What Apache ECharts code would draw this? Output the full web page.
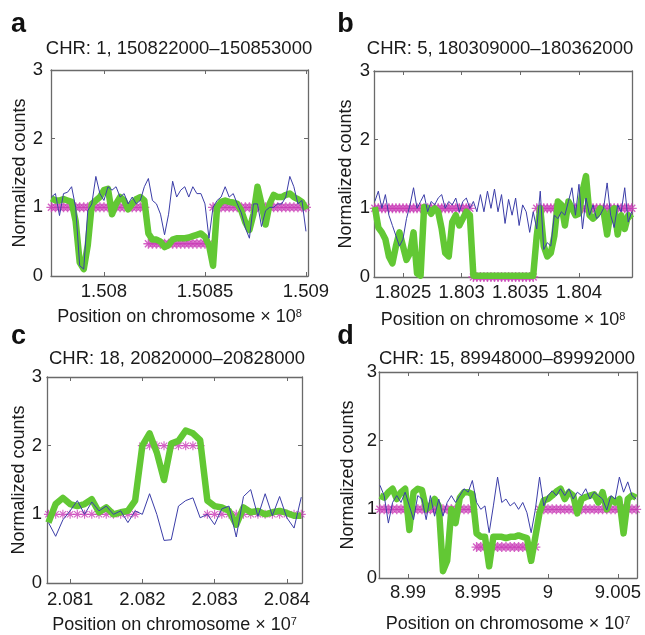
<!DOCTYPE html>
<html><head><meta charset="utf-8">
<script src="https://cdn.jsdelivr.net/npm/echarts@6/dist/echarts.min.js"></script>
<style>html,body{margin:0;padding:0;background:#fff}#chart{width:645px;height:635px}</style>
</head><body><div id="chart"></div>
<script>
// ---------- DATA ----------
const panelLetters = ['a', 'b', 'c', 'd'];
const panelTitles = ['CHR: 1, 150822000–150853000', 'CHR: 5, 180309000–180362000',
                     'CHR: 18, 20820000–20828000', 'CHR: 15, 89948000–89992000'];
const xAxisNames = ['Position on chromosome × 10{s|8}', 'Position on chromosome × 10{s|8}',
                    'Position on chromosome × 10{s|7}', 'Position on chromosome × 10{s|7}'];
const yAxisName = 'Normalized counts';
const yTickValues = [0, 1, 2, 3];

// panel a (positions in kb)
const aRange = [150773.8, 150901];
const aTickValues = [150800, 150850, 150900];
const aTickLabels = ['1.508', '1.5085', '1.509'];
const aPos = [150774,150776,150778,150780,150782,150784,150786,150788,150790,150792,150794,150796,150798,150800,150802,150804,150806,150808,150810,150812,150814,150816,150818,150820,150822,150824,150826,150828,150830,150832,150834,150836,150838,150840,150842,150844,150846,150848,150850,150852,150854,150856,150858,150860,150862,150864,150866,150868,150870,150872,150874,150876,150878,150880,150882,150884,150886,150888,150890,150892,150894,150896,150898,150900];
const aRaw = [1.15,1.2,0.88,1.2,1.22,1.3,1.0,0.15,0.1,0.95,1.05,1.45,1.2,1.1,1.3,1.25,1.3,1.15,1.2,1.05,1.15,1.05,1.1,1.3,1.42,1.1,1.05,0.9,0.6,0.9,1.38,1.15,1.25,1.3,1.15,1.3,1.2,1.2,1.05,0.55,1.0,1.1,1.15,1.3,1.15,1.2,1.05,0.92,0.7,0.55,1.05,1.05,0.72,0.95,1.0,1.0,1.05,1.05,1.15,1.45,1.3,1.05,1.1,0.65];
const aFit = [1.13,1.1,1.1,1.12,1.1,1.08,0.8,0.2,0.1,0.45,1.05,1.1,1.15,1.25,1.27,0.9,1.05,1.15,1.1,0.97,1.05,1.12,1.15,1.1,0.62,0.53,0.53,0.5,0.42,0.45,0.53,0.55,0.55,0.55,0.56,0.58,0.6,0.62,0.57,0.45,0.15,1.0,1.08,1.1,1.08,1.07,1.05,0.95,0.78,0.67,0.9,1.3,1.05,0.75,1.05,1.18,1.15,1.15,1.18,1.2,1.15,1.12,1.08,0.97];
const aSeg = [1,1,1,1,1,1,1,1,1,1,1,1,1,1,1,1,1,1,1,1,1,1,1,1,0.47,0.47,0.47,0.47,0.47,0.47,0.47,0.47,0.47,0.47,0.47,0.47,0.47,0.47,0.47,0.47,1,1,1,1,1,1,1,1,1,1,1,1,1,1,1,1,1,1,1,1,1,1,1,1];

// panel b
const bRange = [180225.3, 180445.2];
const bTickValues = [180250, 180300, 180350, 180400];
const bTickLabels = ['1.8025', '1.803', '1.8035', '1.804'];
const bPos = [180226,180229,180232,180235,180238,180241,180244,180247,180250,180253,180256,180259,180262,180265,180268,180271,180274,180277,180280,180283,180286,180289,180292,180295,180298,180301,180304,180307,180310,180313,180316,180319,180322,180325,180328,180331,180334,180337,180340,180343,180346,180349,180352,180355,180358,180361,180364,180367,180370,180373,180376,180379,180382,180385,180388,180391,180394,180397,180400,180403,180406,180409,180412,180415,180418,180421,180424,180427,180430,180433,180436,180439,180442,180445];
const bRaw = [1.1,1.25,1.0,1.2,0.9,0.75,0.6,0.45,0.55,0.85,1.05,1.3,1.0,1.1,1.2,0.95,1.1,1.05,1.15,1.2,1.0,1.1,1.05,1.15,0.95,1.1,1.15,1.0,1.1,0.95,1.2,0.95,1.25,1.0,1.28,0.95,1.2,0.78,1.13,0.9,1.15,0.75,1.05,0.95,0.65,0.95,0.7,1.25,0.4,0.5,0.45,0.9,0.85,0.95,0.9,1.1,1.3,0.9,1.35,0.7,1.15,0.9,1.05,0.85,0.9,1.0,1.37,0.9,0.72,1.05,0.95,1.3,0.8,0.95];
const bFit = [1.02,0.72,0.65,0.55,0.3,0.2,0.45,0.65,0.45,0.25,0.35,0.65,0.05,0.02,1.02,1.0,0.92,1.0,0.95,0.7,0.35,0.3,0.8,0.9,0.75,0.85,0.95,0.9,0.02,0.02,0.02,0.02,0.02,0.02,0.02,0.02,0.02,0.02,0.02,0.02,0.02,0.02,0.02,0.02,0.02,0.02,0.6,1.0,0.45,0.3,0.35,0.6,1.1,1.05,0.75,1.1,1.0,0.9,0.92,1.25,1.47,0.9,0.85,0.9,1.0,0.95,0.62,0.95,1.0,0.62,0.9,0.7,0.9,0.85];
const bSeg = [1,1,1,1,1,1,1,1,1,1,1,1,1,1,1,1,1,1,1,1,1,1,1,1,1,1,1,1,0,0,0,0,0,0,0,0,0,0,0,0,0,0,0,0,0,0,1,1,1,1,1,1,1,1,1,1,1,1,1,1,1,1,1,1,1,1,1,1,1,1,1,1,1,1];

// panel c
const cRange = [20806.8, 20842.1];
const cTickValues = [20810, 20820, 20830, 20840];
const cTickLabels = ['2.081', '2.082', '2.083', '2.084'];
const cPos = [20807,20808,20809,20810,20811,20812,20813,20814,20815,20816,20817,20818,20819,20820,20821,20822,20823,20824,20825,20826,20827,20828,20829,20830,20831,20832,20833,20834,20835,20836,20837,20838,20839,20840,20841,20842];
const cRaw = [0.88,0.68,0.92,1.05,1.2,1.0,1.18,1.05,1.12,1.0,1.05,0.88,1.05,1.0,1.3,1.0,0.62,0.63,1.12,1.2,1.24,0.95,1.0,0.85,1.08,1.12,0.67,1.26,1.36,0.97,1.3,0.98,1.26,0.95,0.8,1.25];
const cFit = [0.88,1.15,1.24,1.15,1.12,1.15,1.22,1.03,1.1,1.0,1.03,1.05,1.2,2.0,2.18,1.9,1.5,2.03,2.07,2.22,2.18,2.08,1.2,1.12,1.1,1.05,0.85,1.1,1.03,1.05,1.0,1.03,1.05,1.02,0.98,0.98];
const cSeg = [1,1,1,1,1,1,1,1,1,1,1,1,1,2,2,2,2,2,2,2,2,2,1,1,1,1,1,1,1,1,1,1,1,1,1,1];

// panel d
const dRange = [89879.3, 90063.6];
const dTickValues = [89900, 89950, 90000, 90050];
const dTickLabels = ['8.99', '8.995', '9', '9.005'];
const dPos = [89880,89883,89886,89889,89892,89895,89898,89901,89904,89907,89910,89913,89916,89919,89922,89925,89928,89931,89934,89937,89940,89943,89946,89949,89952,89955,89958,89961,89964,89967,89970,89973,89976,89979,89982,89985,89988,89991,89994,89997,90000,90003,90006,90009,90012,90015,90018,90021,90024,90027,90030,90033,90036,90039,90042,90045,90048,90051,90054,90057,90060,90063];
const dRaw = [1.35,1.2,0.8,1.1,1.2,1.1,1.25,1.05,0.85,1.2,1.15,0.85,1.2,0.9,1.15,0.9,1.1,1.2,1.1,1.2,1.3,1.25,1.42,1.1,1.0,1.05,0.66,1.05,1.47,1.1,1.15,1.05,1.1,1.0,1.1,0.95,0.66,1.0,1.47,1.05,1.2,1.27,1.2,1.3,1.2,1.3,1.15,1.25,1.2,1.3,1.15,1.25,1.2,1.15,0.99,1.2,1.15,1.47,1.25,1.4,1.2,1.15];
const dFit = [1.2,1.17,1.25,1.3,1.15,1.25,1.3,0.7,1.25,1.3,1.28,1.0,1.05,1.15,1.05,0.1,0.25,1.0,0.8,1.17,1.25,1.25,1.22,0.65,0.6,0.6,0.17,0.6,0.6,0.6,0.58,0.6,0.6,0.62,0.6,0.58,0.25,0.6,0.95,1.13,1.15,1.2,1.26,1.3,1.15,1.25,1.2,0.94,1.15,1.18,1.2,1.22,1.1,1.25,1.0,1.15,1.1,1.15,0.65,1.15,1.2,1.17];
const dSeg = [1,1,1,1,1,1,1,1,1,1,1,1,1,1,1,1,1,1,1,1,1,1,1,0.45,0.45,0.45,0.45,0.45,0.45,0.45,0.45,0.45,0.45,0.45,0.45,0.45,0.45,0.45,1,1,1,1,1,1,1,1,1,1,1,1,1,1,1,1,1,1,1,1,1,1,1,1];

// ---------- STYLE / LAYOUT ----------
const FONT = "'Liberation Sans', Arial, Helvetica, sans-serif";
const BLUE = '#3b3da8', GREEN = '#62c834', MAGENTA = '#c93cb6', FRAME = '#6a6a6a', TEXT = '#1a1a1a';
const STAR = 'path://M5 0V10M0 5H10M1.5 1.5L8.5 8.5M1.5 8.5L8.5 1.5';

const panels = [
  {pos: aPos, raw: aRaw, fit: aFit, seg: aSeg, range: aRange, ticks: aTickValues, labels: aTickLabels},
  {pos: bPos, raw: bRaw, fit: bFit, seg: bSeg, range: bRange, ticks: bTickValues, labels: bTickLabels},
  {pos: cPos, raw: cRaw, fit: cFit, seg: cSeg, range: cRange, ticks: cTickValues, labels: cTickLabels},
  {pos: dPos, raw: dRaw, fit: dFit, seg: dSeg, range: dRange, ticks: dTickValues, labels: dTickLabels}
];
const geo = [
  {left: 51, top: 70, width: 257, height: 206, xm: 6, ym: 8, xg: 32, yg: 22, title: [179, 49], letter: [18.5, 25], star: 10, sw: 1.4},
  {left: 374, top: 71, width: 258, height: 206, xm: 6, ym: 4, xg: 34, yg: 19, title: [500, 49], letter: [345.5, 25], star: 10, sw: 1.4},
  {left: 47, top: 377, width: 255, height: 206, xm: 7, ym: 5, xg: 33, yg: 15, title: [177, 359], letter: [18.5, 337], star: 9, sw: 1.1},
  {left: 379, top: 372, width: 258, height: 206, xm: 5, ym: 2, xg: 37, yg: 22, title: [507, 359], letter: [345.5, 337], star: 10, sw: 1.4}
];

const grid = [], xAxis = [], yAxis = [], series = [], graphic = [];
panels.forEach((p, i) => {
  const g = geo[i];
  grid.push({left: g.left, top: g.top, width: g.width, height: g.height, containLabel: false});
  const tickStyle = {show: true, inside: true, length: 4, lineStyle: {color: FRAME, width: 1}};
  const lineStyle = {show: true, onZero: false, lineStyle: {color: FRAME, width: 1.3}};
  xAxis.push({
    gridIndex: i, type: 'value', min: p.range[0], max: p.range[1], position: 'bottom',
    axisLine: lineStyle,
    axisTick: Object.assign({customValues: p.ticks}, tickStyle),
    axisLabel: {customValues: p.ticks, fontSize: 18.5, fontFamily: FONT, color: TEXT, margin: g.xm,
      formatter: v => { let k = 0, best = Infinity; p.ticks.forEach((t, j) => { if (Math.abs(t - v) < best) { best = Math.abs(t - v); k = j; } }); return p.labels[k]; }},
    splitLine: {show: false},
    name: xAxisNames[i], nameLocation: 'middle', nameGap: g.xg,
    nameTextStyle: {fontSize: 18, fontFamily: FONT, color: TEXT,
      rich: {s: {fontSize: 11, fontFamily: FONT, color: TEXT, verticalAlign: 'top'}}}
  });
  xAxis.push({
    gridIndex: i, type: 'value', min: p.range[0], max: p.range[1], position: 'top',
    axisLine: lineStyle,
    axisTick: Object.assign({customValues: p.ticks}, tickStyle),
    axisLabel: {show: false}, splitLine: {show: false}
  });
  yAxis.push({
    gridIndex: i, type: 'value', min: 0, max: 3, interval: 1, position: 'left',
    axisLine: lineStyle, axisTick: tickStyle,
    axisLabel: {fontSize: 18.5, fontFamily: FONT, color: TEXT, margin: g.ym,
      formatter: v => String(yTickValues[yTickValues.indexOf(v)] ?? v)},
    splitLine: {show: false},
    name: yAxisName, nameLocation: 'middle', nameGap: g.yg,
    nameTextStyle: {fontSize: 18, fontFamily: FONT, color: TEXT}
  });
  yAxis.push({
    gridIndex: i, type: 'value', min: 0, max: 3, interval: 1, position: 'right',
    axisLine: lineStyle, axisTick: tickStyle,
    axisLabel: {show: false}, splitLine: {show: false}
  });
  const zip = vals => p.pos.map((x, k) => [x, vals[k]]);
  series.push({type: 'scatter', xAxisIndex: 2 * i, yAxisIndex: 2 * i, data: zip(p.seg),
    symbol: STAR, symbolSize: g.star, silent: true,
    itemStyle: {color: 'rgba(0,0,0,0)', borderColor: MAGENTA, borderWidth: g.sw}});
  series.push({type: 'line', xAxisIndex: 2 * i, yAxisIndex: 2 * i, data: zip(p.fit),
    symbol: 'none', silent: true, lineStyle: {color: GREEN, width: 6.5, join: 'round'}});
  series.push({type: 'line', xAxisIndex: 2 * i, yAxisIndex: 2 * i, data: zip(p.raw),
    symbol: 'none', silent: true, lineStyle: {color: BLUE, width: 1}});
  graphic.push({type: 'text', x: g.title[0], y: g.title[1],
    style: {text: panelTitles[i], fontSize: 18.5, fontFamily: FONT, fill: TEXT, align: 'center', verticalAlign: 'middle'}});
  graphic.push({type: 'text', x: g.letter[0], y: g.letter[1],
    style: {text: panelLetters[i], fontSize: 27, fontWeight: 'bold', fontFamily: FONT, fill: '#111', align: 'center', verticalAlign: 'middle'}});
});

const chart = echarts.init(document.getElementById('chart'), null, {renderer: 'canvas'});
chart.setOption({animation: false, backgroundColor: '#fff', grid, xAxis, yAxis, series, graphic});
</script>
</body></html>
